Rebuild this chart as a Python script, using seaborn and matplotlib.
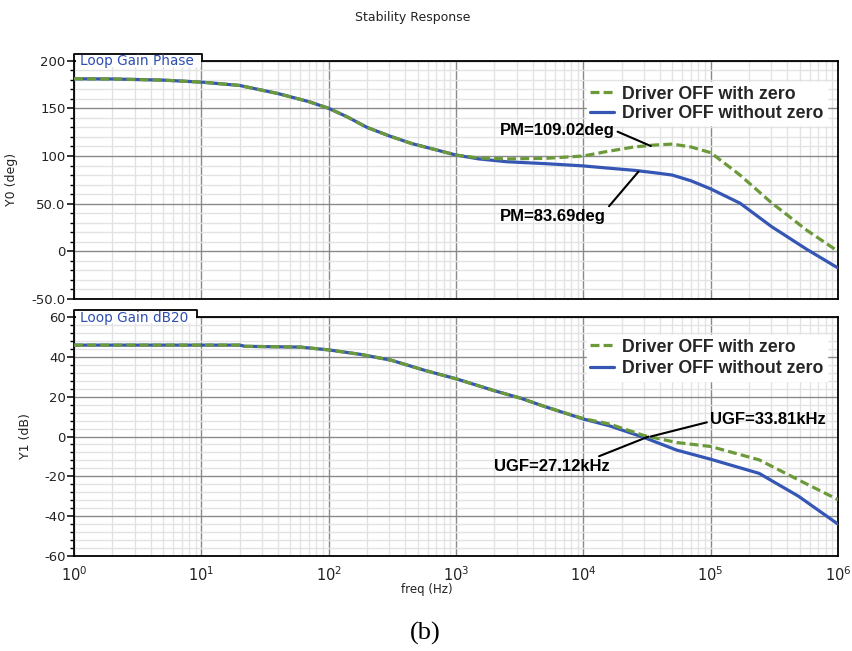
import numpy as np
import pandas as pd
import matplotlib
matplotlib.use("Agg")
import matplotlib.pyplot as plt
import matplotlib.ticker as mticker
from matplotlib.patches import Rectangle
import seaborn as sns

# ---------------- data ----------------
series_names = ["Driver OFF with zero", "Driver OFF without zero"]

freq_phase = [1, 2, 5, 10, 20, 22, 40, 70, 100, 140, 200, 300, 450, 630, 1000,
              1500, 2500, 5000, 10000, 15000, 25000, 36000, 50000, 70000,
              100000, 170000, 300000, 570000, 1000000]
phase_with = [181, 180.8, 179.6, 177.5, 174, 172.8, 165.5, 157, 150, 141, 130,
              121, 113, 108, 101, 98, 97, 97.5, 100, 104.5, 109.5, 111.5,
              112.5, 109.5, 103.5, 80, 51, 22, 0]
phase_without = [181, 180.8, 179.6, 177.5, 174, 172.8, 165.5, 157, 150, 141,
                 130, 121, 113, 108, 101, 97, 94, 92, 89.6, 87.5, 85, 82.5, 80,
                 74, 65.5, 50.5, 26, 2, -17.5]

freq_gain = [1, 5, 20, 22, 60, 100, 180, 310, 570, 1000, 2000, 3200, 5000,
             10000, 16000, 30000, 54000, 100000, 240000, 490000, 1000000]
gain_with = [45.9, 45.9, 45.9, 45.3, 44.9, 43.5, 41.2, 38.3, 33.2, 29, 23,
             19.3, 15, 9, 6.3, 0.5, -3, -5, -11.7, -21.8, -31.7]
gain_without = [45.9, 45.9, 45.9, 45.3, 44.9, 43.5, 41.2, 38.3, 33.2, 29, 23,
                19.3, 15, 8.8, 5.4, -0.5, -6.8, -11.4, -18.5, -30, -44]

freq_ticks = [1, 10, 100, 1000, 10000, 100000, 1000000]
freq_tick_labels = [r"$10^{0}$", r"$10^{1}$", r"$10^{2}$", r"$10^{3}$",
                    r"$10^{4}$", r"$10^{5}$", r"$10^{6}$"]
phase_ticks = [-50, 0, 50, 100, 150, 200]
phase_tick_labels = ["-50.0", "0", "50.0", "100", "150", "200"]
gain_ticks = [-60, -40, -20, 0, 20, 40, 60]
gain_tick_labels = ["-60", "-40", "-20", "0", "20", "40", "60"]

ugf_with = 33810
ugf_without = 27120
pm_with = 109.02
pm_without = 83.69

# ---------------- style ----------------
sns.set_style("white")
plt.rcParams["font.family"] = ["DejaVu Sans"]

GREEN = "#6c9a3a"
BLUE = "#3556b4"
MAJ = "#8a8a8a"
MIN = "#e3e3e3"
TABC = "#2f4fb0"
LEG_FONT = {"family": "Liberation Sans", "weight": "bold", "size": 12.8}

fig = plt.figure(figsize=(8.52, 6.51), dpi=100)
ax1 = fig.add_axes([0.0869, 0.5407, 0.8967, 0.3661])
ax2 = fig.add_axes([0.0869, 0.1459, 0.8967, 0.3671])


def draw(ax, freq, with_vals, without_vals):
    df_wo = pd.DataFrame({"freq": freq, "val": without_vals})
    df_w = pd.DataFrame({"freq": freq, "val": with_vals})
    sns.lineplot(data=df_wo, x="freq", y="val", ax=ax, color=BLUE, lw=2.3,
                 estimator=None, sort=False, label=series_names[1], zorder=4)
    sns.lineplot(data=df_w, x="freq", y="val", ax=ax, color=GREEN, lw=2.3,
                 estimator=None, sort=False, label=series_names[0], zorder=5)
    ax.lines[-1].set_dashes((2.8, 1.3))
    ax.lines[-1].set_dash_capstyle("butt")
    ax.set_xscale("log")
    ax.set_xlim(1, 1e6)
    ax.set_xticks(freq_ticks, freq_tick_labels)
    ax.xaxis.set_minor_locator(mticker.LogLocator(base=10, subs=np.arange(2, 10), numticks=12))
    ax.xaxis.set_minor_formatter(mticker.NullFormatter())
    ax.set_axisbelow(True)
    ax.grid(which="major", color=MAJ, lw=1.0)
    ax.grid(which="minor", color=MIN, lw=1.0)
    for s in ax.spines.values():
        s.set_color("black")
        s.set_linewidth(1.3)
    ax.tick_params(axis="y", which="major", direction="out", length=5, width=1.1,
                   color="black", labelsize=9.5, labelcolor="#222222", pad=1, left=True)
    ax.tick_params(axis="y", which="minor", direction="out", length=3, width=1.0,
                   color="black", left=True)
    ax.set_xlabel("")
    ax.set_ylabel("")
    h, l = ax.get_legend_handles_labels()
    order = [l.index(series_names[0]), l.index(series_names[1])]
    return [h[i] for i in order], [l[i] for i in order]


def tab(ax, text, right, h):
    ax.add_patch(Rectangle((0.002, 0.975), right - 0.003, 1.0 + h - 0.975,
                           transform=ax.transAxes, facecolor="white",
                           edgecolor="none", clip_on=False, zorder=6))
    ax.plot([0, 0, right, right], [1, 1 + h, 1 + h, 1], transform=ax.transAxes,
            color="black", lw=1.3, clip_on=False, zorder=7)
    ax.text(0.008, 0.998, text, transform=ax.transAxes, color=TABC, fontsize=9.8,
            ha="left", va="center", zorder=8)


def legend(ax, h, l, top, spacing):
    ax.legend(h, l, loc="upper right", bbox_to_anchor=(0.986, top),
              prop=LEG_FONT, frameon=True, facecolor="white",
              edgecolor="white", framealpha=1, handlelength=1.35,
              labelspacing=spacing, borderpad=0.2, handletextpad=0.45,
              borderaxespad=0, fancybox=False)


# top panel
h1, l1 = draw(ax1, freq_phase, phase_with, phase_without)
ax1.set_ylim(-50, 200)
ax1.set_yticks(phase_ticks, phase_tick_labels)
ax1.yaxis.set_minor_locator(mticker.MultipleLocator(10))
ax1.tick_params(axis="x", which="both", length=0, labelbottom=False)
ax1.set_ylabel("Y0 (deg)", fontsize=9, color="#222222")
ax1.yaxis.set_label_coords(-0.073, 0.5)
legend(ax1, h1, l1, 0.91, 0.12)
tab(ax1, "Loop Gain Phase", 0.1675, 0.028)

bold = dict(family="Liberation Sans", weight="bold", size=12, color="black")
arrow = dict(arrowstyle="-", color="black", lw=1.5, shrinkA=0, shrinkB=0)
ax1.annotate(f"PM={pm_with:.2f}deg", xy=(ugf_with, 110.5), xytext=(1.75e4, 127),
             ha="right", va="center", arrowprops=dict(arrow, relpos=(1.0, 0.5)),
             **bold, zorder=9)
ax1.annotate(f"PM={pm_without:.2f}deg", xy=(ugf_without, pm_without), xytext=(1.5e4, 37),
             ha="right", va="center", arrowprops=dict(arrow, relpos=(1.0, 0.9)),
             **bold, zorder=9)

# bottom panel
h2, l2 = draw(ax2, freq_gain, gain_with, gain_without)
ax2.set_ylim(-60, 60)
ax2.set_yticks(gain_ticks, gain_tick_labels)
ax2.yaxis.set_minor_locator(mticker.MultipleLocator(4))
ax2.tick_params(axis="x", which="major", direction="out", length=5, width=1.1,
                color="black", labelsize=10.5, labelcolor="#222222", pad=2)
ax2.tick_params(axis="x", which="minor", direction="out", length=3, width=1.0,
                color="black")
ax2.set_ylabel("Y1 (dB)", fontsize=9, color="#222222")
ax2.yaxis.set_label_coords(-0.055, 0.5)
legend(ax2, h2, l2, 0.925, 0.25)
tab(ax2, "Loop Gain dB20", 0.161, 0.029)

ax2.annotate(f"UGF={ugf_with/1000:.2f}kHz", xy=(ugf_with, 0), xytext=(9.9e4, 8.3),
             ha="left", va="center", arrowprops=dict(arrow, relpos=(0.0, 0.4)),
             **bold, zorder=9)
ax2.annotate(f"UGF={ugf_without/1000:.2f}kHz", xy=(ugf_without * 1.2, 0), xytext=(1.6e4, -15.3),
             ha="right", va="center", arrowprops=dict(arrow, relpos=(0.84, 1.0)),
             **bold, zorder=9)

fig.text(413 / 852, 1 - 18 / 651, "Stability Response", ha="center", va="center",
         fontsize=9, color="#222222")
fig.text(427 / 852, 1 - 590 / 651, "freq (Hz)", ha="center", va="center",
         fontsize=8.5, color="#222222")
fig.text(425 / 852, 1 - 633 / 651, "(b)", ha="center", va="center",
         fontsize=19, family="Liberation Serif", color="black")

fig.savefig("out.png", dpi=100)
